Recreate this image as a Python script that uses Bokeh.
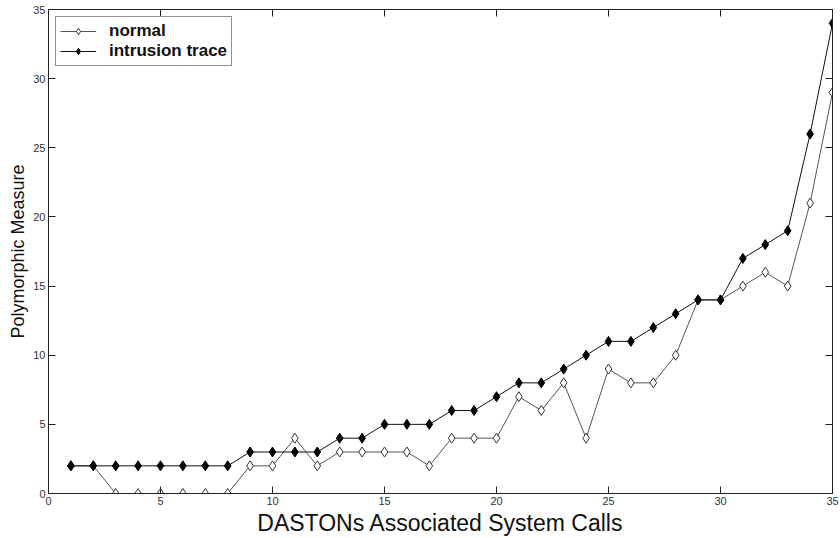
from bokeh.plotting import figure
from bokeh.models import LinearAxis, FixedTicker, Range1d
from bokeh.embed import file_html
from bokeh.resources import INLINE

# Data
x_calls = list(range(1, 36))
normal = [2, 2, 0, 0, 0, 0, 0, 0, 2, 2, 4, 2, 3, 3, 3, 3, 2, 4, 4, 4,
          7, 6, 8, 4, 9, 8, 8, 10, 14, 14, 15, 16, 15, 21, 29]
intrusion = [2, 2, 2, 2, 2, 2, 2, 2, 3, 3, 3, 3, 4, 4, 5, 5, 5, 6, 6, 7,
             8, 8, 9, 10, 11, 11, 12, 13, 14, 14, 17, 18, 19, 26, 34]
tick_values = [0, 5, 10, 15, 20, 25, 30, 35]

FONT = "Liberation Sans"

p = figure(width=840, height=538, output_backend="svg", toolbar_location=None,
           x_range=Range1d(0, 35), y_range=Range1d(0, 35),
           min_border_left=48, min_border_right=8, min_border_top=9,
           min_border_bottom=45, x_axis_label="DASTONs Associated System Calls",
           y_axis_label="Polymorphic Measure")

p.grid.visible = False
p.outline_line_color = "#222222"
p.background_fill_color = "white"
p.border_fill_color = "white"

for ax in (p.xaxis[0], p.yaxis[0]):
    ax.ticker = FixedTicker(ticks=tick_values)
    ax.major_tick_in = 7
    ax.major_tick_out = 0
    ax.minor_tick_line_color = None
    ax.axis_line_color = "#222222"
    ax.major_tick_line_color = "#222222"
    ax.major_label_text_font = FONT
    ax.major_label_text_font_size = "11px"
    ax.major_label_text_color = "#333333"
    ax.axis_label_text_font = FONT
    ax.axis_label_text_font_style = "normal"
    ax.axis_label_text_color = "#111111"
    ax.major_label_standoff = 3
    ax.axis_label_standoff = 2

p.xaxis[0].axis_label_text_font_size = "23px"
p.yaxis[0].axis_label_text_font_size = "18px"

for side in ("above", "right"):
    a = LinearAxis(ticker=FixedTicker(ticks=tick_values), major_tick_in=7, major_tick_out=0,
                   minor_tick_line_color=None, major_label_text_font_size="1px",
                   major_label_text_color=None,
                   major_label_standoff=0, axis_line_color="#222222",
                   major_tick_line_color="#222222")
    p.add_layout(a, side)

p.line(x_calls, normal, line_color="#555555", line_width=1, legend_label="normal")
p.scatter(x_calls, normal, marker="diamond", size=10, fill_color="white",
          line_color="#333333", line_width=1, legend_label="normal")

p.line(x_calls, intrusion, line_color="#111111", line_width=1, legend_label="intrusion trace")
p.scatter(x_calls, intrusion, marker="diamond", size=10, fill_color="black",
          line_color="black", line_width=1, legend_label="intrusion trace")

lg = p.legend[0]
lg.location = "top_left"
lg.margin = 7
lg.border_line_color = "#222222"
lg.border_line_width = 1
lg.label_text_font = FONT
lg.label_text_font_size = "17px"
lg.label_text_font_style = "bold"
lg.label_text_color = "#111111"
lg.glyph_width = 36
lg.glyph_height = 16
lg.label_height = 16
lg.label_standoff = 13
lg.spacing = 0
lg.padding = 4
lg.background_fill_alpha = 1

open("out.html", "w").write(file_html(p, INLINE))
